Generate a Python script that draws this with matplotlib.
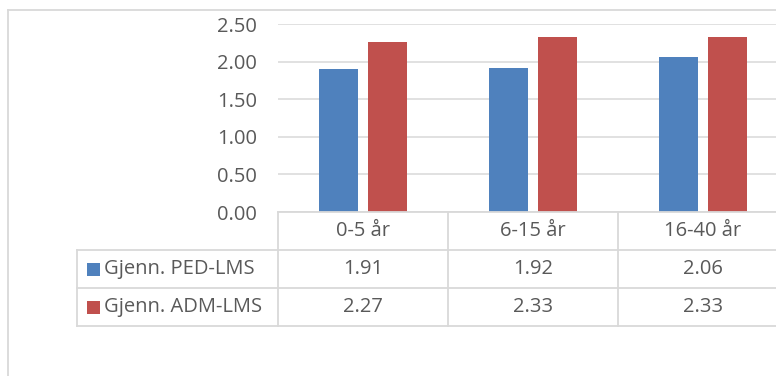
import numpy as np
import matplotlib
matplotlib.use('Agg')
import matplotlib.pyplot as plt

categories = ['0-5 år', '6-15 år', '16-40 år']
series_names = ['Gjenn. PED-LMS', 'Gjenn. ADM-LMS']
ped_lms = [1.91, 1.92, 2.06]
adm_lms = [2.27, 2.33, 2.33]
colors = ['#4f81bd', '#c0504d']

plt.rcParams['font.family'] = ['Open Sans', 'DejaVu Sans']
text_color = '#595959'
line_color = '#d9d9d9'
fs = 14.5

W, H = 776, 376
fig = plt.figure(figsize=(W / 100, H / 100), dpi=100)

# layout in pixels (plot area runs past the right edge, as in the reference)
left, right = 278, 788
top, bottom = 24.3, 212
row_h = 38
table_left = 77

ax = fig.add_axes([left / W, 1 - bottom / H, (right - left) / W, (bottom - top) / H])
x = np.arange(len(categories))
bw = 0.227
off = 0.143
ax.bar(x - off, ped_lms, bw, color=colors[0], zorder=3)
ax.bar(x + off, adm_lms, bw, color=colors[1], zorder=3)
ax.set_xlim(-0.5, len(categories) - 0.5)
ax.set_ylim(0, 2.5)
ax.set_yticks(np.arange(0, 2.51, 0.5))
ax.yaxis.set_major_formatter(matplotlib.ticker.FormatStrFormatter('%.2f'))
ax.set_xticks([])
ax.grid(axis='y', color=line_color, linewidth=1.1, zorder=0)
for s in ax.spines.values():
    s.set_visible(False)
ax.tick_params(axis='y', length=0, pad=15, labelsize=fs, labelcolor=text_color)

# overlay in pixel coords for the frame and the data table
ov = fig.add_axes([0, 0, 1, 1], zorder=5)
ov.set_xlim(0, W)
ov.set_ylim(H, 0)
ov.axis('off')
ov.patch.set_alpha(0)

lw = 1.3
# chart frame
ov.plot([8, W], [10, 10], color=line_color, lw=lw)
ov.plot([8, 8], [10, H], color=line_color, lw=lw)

cw = (right - left) / len(categories)
col_edges = [left + cw * i for i in range(len(categories) + 1)]
rows_y = [bottom + row_h * i for i in range(4)]

ov.plot([left, right], [rows_y[0], rows_y[0]], color=line_color, lw=lw)
for yy in rows_y[1:]:
    ov.plot([table_left, right], [yy, yy], color=line_color, lw=lw)
for xx in col_edges:
    ov.plot([xx, xx], [rows_y[0], rows_y[3]], color=line_color, lw=lw)
ov.plot([table_left, table_left], [rows_y[1], rows_y[3]], color=line_color, lw=lw)

for i, c in enumerate(categories):
    cx = (col_edges[i] + col_edges[i + 1]) / 2
    ov.text(cx, rows_y[0] + row_h / 2, c, ha='center', va='center', fontsize=fs, color=text_color)

for r, (name, vals) in enumerate(zip(series_names, [ped_lms, adm_lms])):
    cy = rows_y[r + 1] + row_h / 2
    ov.add_patch(plt.Rectangle((87, cy - 6.5), 13, 13, color=colors[r], lw=0))
    ov.text(104, cy, name, ha='left', va='center', fontsize=fs, color=text_color)
    for i, v in enumerate(vals):
        cx = (col_edges[i] + col_edges[i + 1]) / 2
        ov.text(cx, cy, f'{v:.2f}', ha='center', va='center', fontsize=fs, color=text_color)

fig.savefig('out.png', dpi=100, facecolor='white')
